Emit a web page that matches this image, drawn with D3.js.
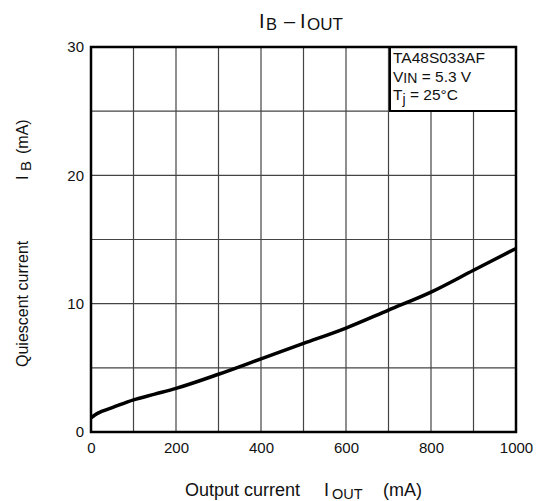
<!DOCTYPE html>
<html><head><meta charset="utf-8">
<script src="https://cdn.jsdelivr.net/npm/d3@7"></script>
<style>body{margin:0;background:#fff}text{font-family:"Liberation Sans",Arial,sans-serif;fill:#111}</style>
</head><body><svg id="c" width="542" height="501"></svg>
<script>
const iout = [0, 10, 25, 50, 100, 150, 200, 300, 400, 500, 600, 700, 800, 900, 1000];
const ib   = [1.1, 1.35, 1.6, 1.9, 2.5, 2.95, 3.4, 4.5, 5.7, 6.9, 8.1, 9.5, 10.9, 12.6, 14.3];
const xTicks = [0, 200, 400, 600, 800, 1000];
const yTicks = [0, 10, 20, 30];
const xGrid = [100, 200, 300, 400, 500, 600, 700, 800, 900];
const yGrid = [5, 10, 15, 20, 25];

const svg = d3.select("#c");
const L = 91, R = 516, T = 47, B = 432;
const x = d3.scaleLinear().domain([0, 1000]).range([L, R]);
const y = d3.scaleLinear().domain([0, 30]).range([B, T]);

// grid
svg.append("g").selectAll("line").data(xGrid).join("line")
  .attr("x1", d => x(d)).attr("x2", d => x(d)).attr("y1", T).attr("y2", B)
  .attr("stroke", "#444").attr("stroke-width", 1.2);
svg.append("g").selectAll("line").data(yGrid).join("line")
  .attr("y1", d => y(d)).attr("y2", d => y(d)).attr("x1", L).attr("x2", R)
  .attr("stroke", "#444").attr("stroke-width", 1.2);

// curve
const line = d3.line().x((d, i) => x(iout[i])).y(d => y(d)).curve(d3.curveMonotoneX);
svg.append("path").datum(ib).attr("d", line).attr("fill", "none")
  .attr("stroke", "#000").attr("stroke-width", 3.5).attr("stroke-linejoin", "round");

// legend box
const bx = 390, by = T, bw = R - 390, bh = 64;
svg.append("rect").attr("x", bx).attr("y", by).attr("width", bw).attr("height", bh)
  .attr("fill", "#fff").attr("stroke", "#000").attr("stroke-width", 2);
const lt = svg.append("g").attr("font-size", 15.5);
lt.append("text").attr("x", 393).attr("y", 63).text("TA48S033AF");
const v = lt.append("text").attr("x", 393).attr("y", 82);
v.append("tspan").text("V");
v.append("tspan").attr("font-size", 14).attr("dy", 1).text("IN");
v.append("tspan").attr("dy", -1).text(" = 5.3 V");
const t = lt.append("text").attr("x", 393).attr("y", 100);
t.append("tspan").text("T");
t.append("tspan").attr("font-size", 14).attr("dy", 4).text("j");
t.append("tspan").attr("dy", -4).text(" = 25°C");

// frame
svg.append("rect").attr("x", L).attr("y", T).attr("width", R - L).attr("height", B - T)
  .attr("fill", "none").attr("stroke", "#000").attr("stroke-width", 2.5);

// axes
const xa = svg.append("g").attr("transform", `translate(0,${B})`)
  .call(d3.axisBottom(x).tickValues(xTicks).tickSize(0).tickPadding(10).tickFormat(d3.format("d")));
xa.select(".domain").remove();
xa.selectAll("text").attr("font-size", 15).attr("font-family", "Liberation Sans, Arial, sans-serif").attr("fill", "#111");
const ya = svg.append("g").attr("transform", `translate(${L},0)`)
  .call(d3.axisLeft(y).tickValues(yTicks).tickSize(0).tickPadding(7).tickFormat(d3.format("d")));
ya.select(".domain").remove();
ya.selectAll("text").attr("font-size", 15).attr("font-family", "Liberation Sans, Arial, sans-serif").attr("fill", "#111");

// title
const ti = svg.append("text").attr("y", 28).attr("font-size", 20);
ti.append("tspan").attr("x", 259).text("I");
ti.append("tspan").attr("x", 266).attr("font-size", 16.5).attr("dy", 2).text("B");
ti.append("tspan").attr("x", 284).attr("dy", -2).text("–");
ti.append("tspan").attr("x", 300).text("I");
ti.append("tspan").attr("x", 307).attr("font-size", 17).attr("dy", 2).text("OUT");

// x label
const xl = svg.append("text").attr("y", 496).attr("font-size", 18);
xl.append("tspan").attr("x", 185).text("Output current");
xl.append("tspan").attr("x", 324).text("I");
xl.append("tspan").attr("x", 332).attr("font-size", 14.5).attr("dy", 3).text("OUT");
xl.append("tspan").attr("x", 383).attr("dy", -3).text("(mA)");

// y label
const yl = svg.append("text").attr("transform", "translate(28,367) rotate(-90)").attr("font-size", 16);
yl.append("tspan").attr("x", 0).text("Quiescent current");
yl.append("tspan").attr("x", 187).text("I");
yl.append("tspan").attr("x", 196).attr("font-size", 15).attr("dy", 3).text("B");
yl.append("tspan").attr("x", 213).attr("dy", -3).text("(mA)");
</script></body></html>
